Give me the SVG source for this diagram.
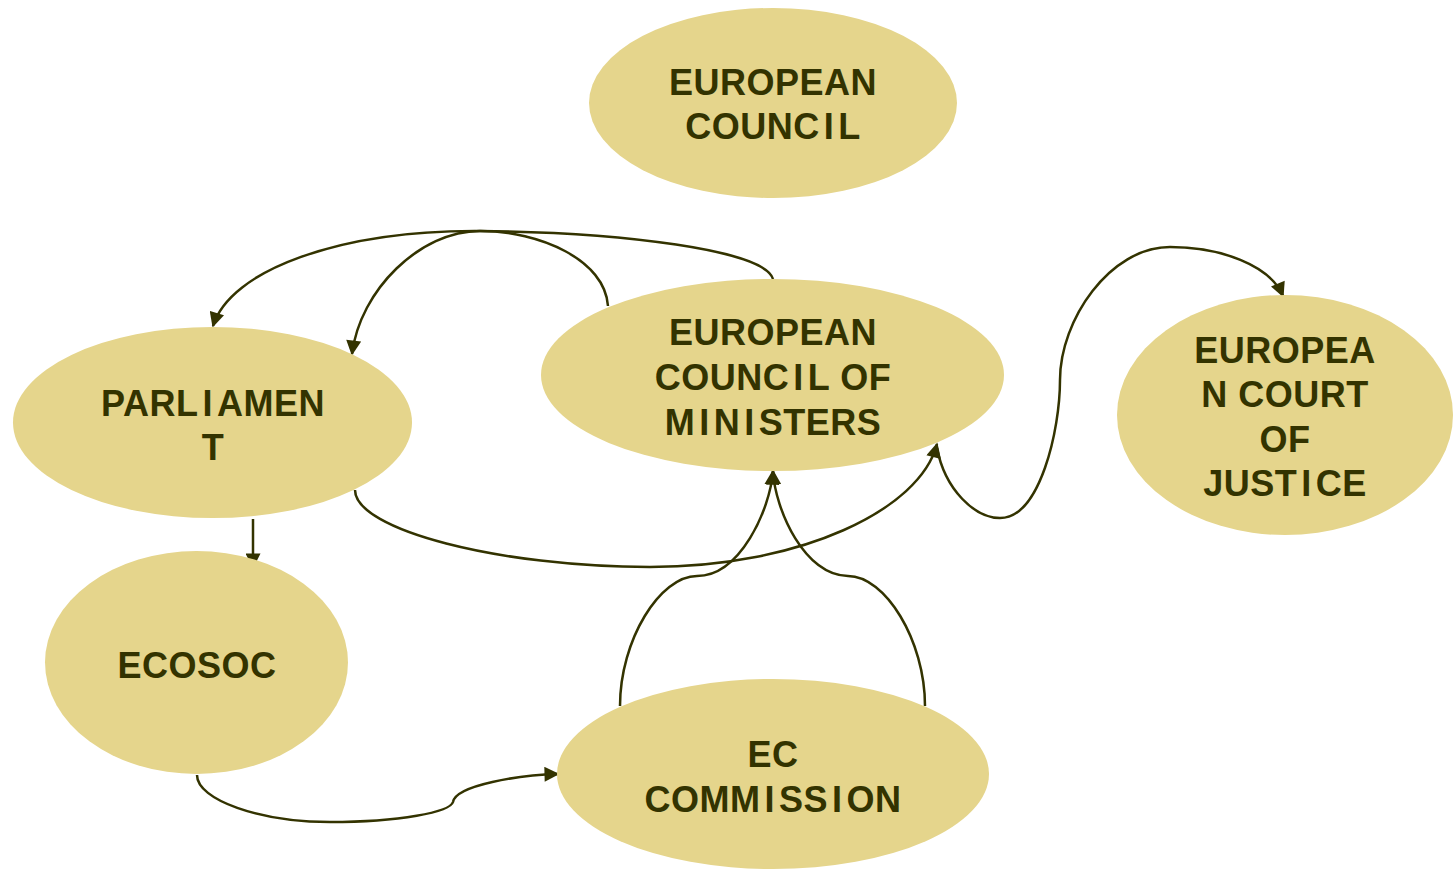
<svg xmlns="http://www.w3.org/2000/svg" width="1453" height="869" viewBox="0 0 1453 869">
<style>
.n{fill:#E5D58C}
.t{font-family:"Liberation Sans",Arial,sans-serif;font-weight:bold;font-size:36px;fill:#333300;text-anchor:middle;letter-spacing:0.5px}
.i{letter-spacing:4.5px}
.c{fill:none;stroke:#333300;stroke-width:2.5}
</style>
<defs>
<marker id="a" viewBox="0 0 10 10" refX="9" refY="5" markerWidth="16" markerHeight="15" markerUnits="userSpaceOnUse" orient="auto">
<path d="M0,0 L10,5 L0,10 Z" fill="#333300"/>
</marker>
</defs>
<rect width="1453" height="869" fill="#fff"/>
<g id="connectors">
<path class="c" marker-end="url(#a)" d="M773,279 C765,250 620,232 480,231 C340,230 230,270 213,326"/>
<path class="c" marker-end="url(#a)" d="M608,306 C605,260 540,231 480,231 C420,231 360,290 352,354"/>
<path class="c" marker-end="url(#a)" d="M355,490 C355,530 500,567 650,567 C800,567 920,510 937,444"/>
<path class="c" marker-end="url(#a)" d="M937,448 C945,490 975,518 1000,518 C1040,518 1060,430 1060,380 C1060,320 1110,247 1170,247 C1220,247 1270,265 1283,296"/>
<path class="c" marker-end="url(#a)" d="M253,519 L253,567"/>
<path class="c" marker-end="url(#a)" d="M197,775 C197,800 260,822 330,822 C400,822 450,812 453,802 C456,785 520,775 558,774"/>
<path class="c" marker-end="url(#a)" d="M620,706 C620,640 660,576 697,576 C740,576 770,510 773,471"/>
<path class="c" marker-end="url(#a)" d="M925,706 C925,640 885,576 848,576 C805,576 775,510 773,471"/>
</g>
<g id="european-council">
<ellipse class="n" cx="773" cy="103" rx="184" ry="95"/>
<text class="t" x="773" y="95">EUROPEAN</text>
<text class="t" x="773" y="139">COUNC<tspan class="i" dx="4">I</tspan>L</text>
</g>
<g id="council-of-ministers">
<ellipse class="n" cx="772.5" cy="375" rx="231.5" ry="96"/>
<text class="t" x="773" y="345">EUROPEAN</text>
<text class="t" x="773" y="390">COUNC<tspan class="i" dx="4">I</tspan>L OF</text>
<text class="t" x="773" y="435">M<tspan class="i" dx="4">I</tspan>N<tspan class="i" dx="4">I</tspan>STERS</text>
</g>
<g id="parliament">
<ellipse class="n" cx="212.5" cy="422.5" rx="199.5" ry="95.5"/>
<text class="t" x="213" y="416">PARL<tspan class="i" dx="4">I</tspan>AMEN</text>
<text class="t" x="213" y="460">T</text>
</g>
<g id="ecosoc">
<ellipse class="n" cx="196.5" cy="662.5" rx="151.5" ry="111.5"/>
<text class="t" x="197" y="678">ECOSOC</text>
</g>
<g id="ec-commission">
<ellipse class="n" cx="773" cy="774" rx="216" ry="95"/>
<text class="t" x="773" y="767">EC</text>
<text class="t" x="773" y="812">COMM<tspan class="i" dx="4">I</tspan>SS<tspan class="i" dx="4">I</tspan>ON</text>
</g>
<g id="court-of-justice">
<ellipse class="n" cx="1285" cy="415" rx="168" ry="120"/>
<text class="t" x="1285" y="363">EUROPEA</text>
<text class="t" x="1285" y="407">N COURT</text>
<text class="t" x="1285" y="452">OF</text>
<text class="t" x="1285" y="496">JUST<tspan class="i" dx="4">I</tspan>CE</text>
</g>
</svg>
